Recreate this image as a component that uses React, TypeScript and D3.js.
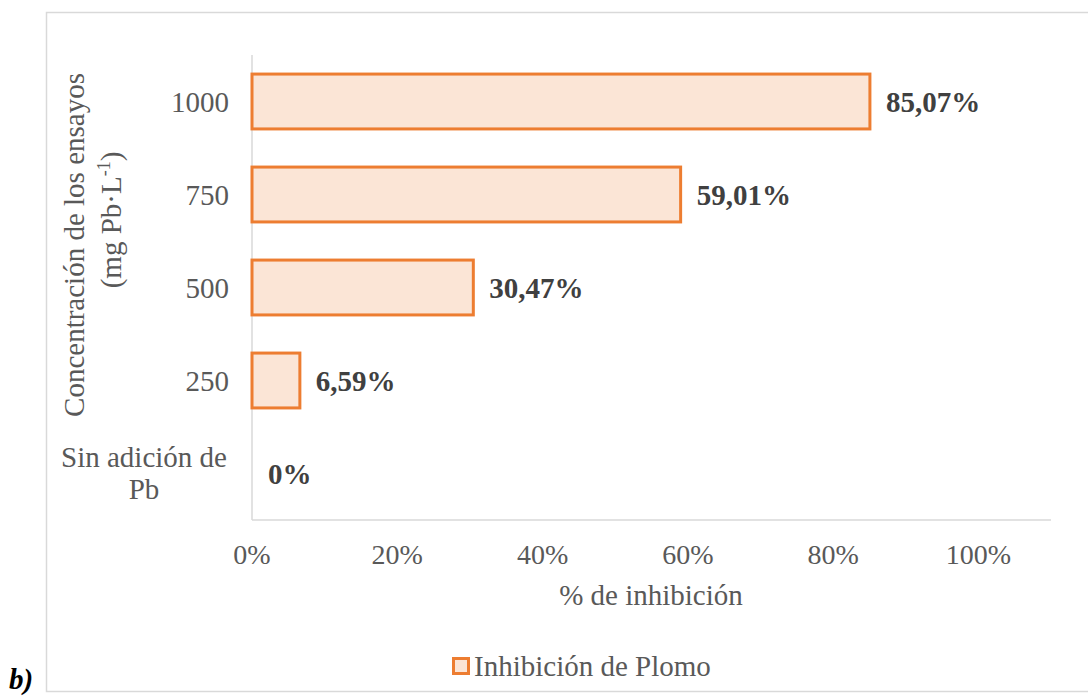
import React, { useRef, useEffect } from "react";
import { select, scaleBand, scaleLinear } from "d3";

// categories top to bottom, as shown
const categories = ["1000", "750", "500", "250", "Sin adición de Pb"];
const inhibicion = [0.8507, 0.5901, 0.3047, 0.0659, 0];
const valueLabels = ["85,07%", "59,01%", "30,47%", "6,59%", "0%"];
const xTicks = [0, 0.2, 0.4, 0.6, 0.8, 1.0];
const seriesName = "Inhibición de Plomo";

const ORANGE = "#ed7d31";
const FILL = "#fbe5d6";
const GRID = "#d9d9d9";
const TEXT = "#595959";
const FONT = "'Liberation Serif', 'Times New Roman', serif";

function App() {
  const svgRef = useRef(null);

  useEffect(() => {
    const svg = select(svgRef.current);
    svg.selectAll("*").remove();

    const xScale = scaleLinear().domain([0, 1.1]).range([252, 1051]);
    const yScale = scaleBand()
      .domain(categories)
      .range([55, 520])
      .paddingInner(0.41)
      .paddingOuter(0.205);

    // outer frame
    svg.append("rect")
      .attr("x", 46.5).attr("y", 12.5)
      .attr("width", 1100).attr("height", 679)
      .attr("fill", "#fff").attr("stroke", GRID).attr("stroke-width", 1.5);

    svg.append("text")
      .attr("x", 9).attr("y", 689)
      .attr("font-family", FONT).attr("font-size", 29)
      .attr("font-weight", "bold").attr("font-style", "italic")
      .attr("fill", "#000")
      .text("b)");

    // axis lines
    svg.append("line")
      .attr("x1", xScale(0)).attr("x2", xScale(0))
      .attr("y1", 55).attr("y2", 520)
      .attr("stroke", GRID).attr("stroke-width", 1.5);
    svg.append("line")
      .attr("x1", xScale(0)).attr("x2", xScale(1.1))
      .attr("y1", 520).attr("y2", 520)
      .attr("stroke", GRID).attr("stroke-width", 1.5);

    const data = categories.map((c, i) => ({ name: c, value: inhibicion[i], label: valueLabels[i] }));

    // bars
    svg.selectAll(".bar")
      .data(data.filter((d) => d.value > 0))
      .join("rect")
      .attr("class", "bar")
      .attr("x", xScale(0))
      .attr("y", (d) => yScale(d.name))
      .attr("width", (d) => xScale(d.value) - xScale(0))
      .attr("height", yScale.bandwidth())
      .attr("fill", FILL)
      .attr("stroke", ORANGE)
      .attr("stroke-width", 3);

    // value labels
    svg.selectAll(".value-label")
      .data(data)
      .join("text")
      .attr("class", "value-label")
      .attr("x", (d) => xScale(d.value) + 16)
      .attr("y", (d) => yScale(d.name) + yScale.bandwidth() / 2 + 10)
      .attr("font-family", FONT).attr("font-size", 29)
      .attr("font-weight", "bold").attr("fill", "#404040")
      .text((d) => d.label);

    // category labels (long one wraps onto two centred lines)
    const catText = svg.selectAll(".name-label")
      .data(data)
      .join("text")
      .attr("class", "name-label")
      .attr("font-family", FONT).attr("font-size", 29)
      .attr("fill", TEXT);
    catText.each(function (d) {
      const t = select(this);
      const cy = yScale(d.name) + yScale.bandwidth() / 2;
      if (d.name.length > 8) {
        t.attr("text-anchor", "middle");
        ["Sin adición de", "Pb"].forEach((ln, i) => {
          t.append("tspan").attr("x", 144).attr("y", cy - 7 + i * 32).text(ln);
        });
      } else {
        t.attr("text-anchor", "end");
        t.append("tspan").attr("x", 229).attr("y", cy + 10).text(d.name);
      }
    });

    // x tick labels
    svg.selectAll(".x-tick")
      .data(xTicks)
      .join("text")
      .attr("class", "x-tick")
      .attr("x", (d) => xScale(d))
      .attr("y", 564)
      .attr("text-anchor", "middle")
      .attr("font-family", FONT).attr("font-size", 28)
      .attr("fill", TEXT)
      .text((d) => `${Math.round(d * 100)}%`);

    // x axis title
    svg.append("text")
      .attr("x", 651).attr("y", 605)
      .attr("text-anchor", "middle")
      .attr("font-family", FONT).attr("font-size", 29)
      .attr("fill", TEXT)
      .text("% de inhibición");

    // y axis title
    const yTitle = svg.append("g").attr("transform", "translate(84,245) rotate(-90)");
    yTitle.append("text")
      .attr("x", 0).attr("y", 0)
      .attr("text-anchor", "middle")
      .attr("font-family", FONT).attr("font-size", 29)
      .attr("fill", TEXT)
      .text("Concentración de los ensayos");
    const line2 = yTitle.append("text")
      .attr("x", 25).attr("y", 37)
      .attr("text-anchor", "middle")
      .attr("font-family", FONT).attr("font-size", 29)
      .attr("fill", TEXT);
    line2.append("tspan").text("(mg Pb·L");
    line2.append("tspan").attr("font-size", 18).attr("dy", -11).text("-1");
    line2.append("tspan").attr("dy", 11).text(")");

    // legend
    svg.append("rect")
      .attr("x", 453.5).attr("y", 658.5)
      .attr("width", 15).attr("height", 15)
      .attr("fill", FILL).attr("stroke", ORANGE).attr("stroke-width", 3);
    svg.append("text")
      .attr("x", 474).attr("y", 676)
      .attr("font-family", FONT).attr("font-size", 29)
      .attr("fill", TEXT)
      .text(seriesName);
  }, []);

  return (
    <div style={{ position: "absolute", left: 0, top: 0 }}>
      <svg ref={svgRef} width={1088} height={697} style={{ display: "block" }} />
    </div>
  );
}

export default App;
